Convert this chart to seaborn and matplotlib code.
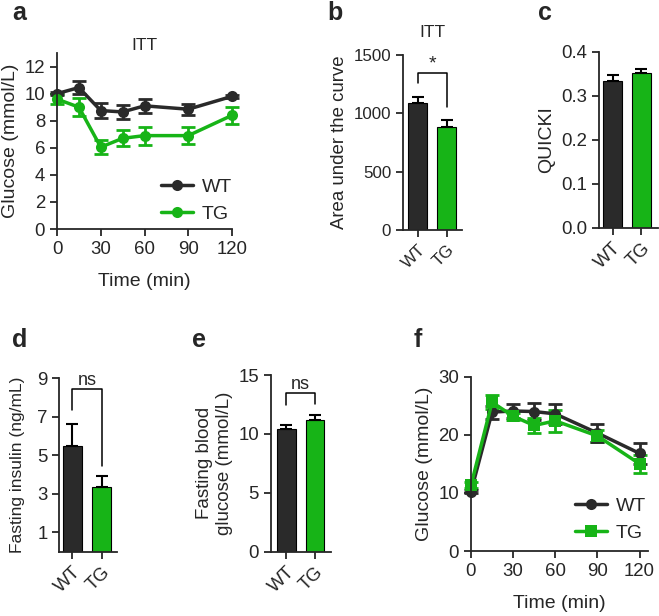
import numpy as np
import pandas as pd
import matplotlib
matplotlib.use("Agg")
import matplotlib.pyplot as plt
import seaborn as sns

# panel a: ITT time course
itt_time = [0, 15, 30, 45, 60, 90, 120]
itt_wt = [10.0, 10.45, 8.75, 8.65, 9.1, 8.85, 9.8]
itt_wt_err = [0.1, 0.5, 0.55, 0.52, 0.5, 0.42, 0.1]
itt_tg = [9.6, 9.0, 6.05, 6.7, 6.9, 6.9, 8.4]
itt_tg_err = [0.4, 0.67, 0.5, 0.6, 0.67, 0.62, 0.65]

# bar panels
groups = ["WT", "TG"]
auc = [1091, 880]
auc_err = [46, 63]
quicki = [0.335, 0.352]
quicki_err = [0.012, 0.009]
insulin = [5.47, 3.38]
insulin_err = [1.17, 0.55]
fbg = [10.4, 11.2]
fbg_err = [0.38, 0.38]

# panel f: GTT time course
gtt_time = [0, 15, 30, 45, 60, 90, 120]
gtt_wt = [10.2, 23.9, 24.1, 24.0, 23.6, 20.3, 16.8]
gtt_wt_err = [0.3, 1.1, 1.2, 1.4, 1.7, 1.6, 1.8]
gtt_tg = [11.3, 25.6, 23.2, 21.6, 22.4, 19.8, 15.0]
gtt_tg_err = [0.5, 1.2, 0.6, 1.3, 1.9, 1.0, 1.5]

DARK = "#2a2a2a"
GREEN = "#17b417"

sns.set_style("ticks")
plt.rcParams["font.family"] = ["Liberation Sans", "DejaVu Sans"]
plt.rcParams["axes.linewidth"] = 1.3
plt.rcParams["xtick.major.width"] = 1.3
plt.rcParams["ytick.major.width"] = 1.3
plt.rcParams["xtick.major.size"] = 5
plt.rcParams["ytick.major.size"] = 5
plt.rcParams["xtick.labelsize"] = 13.4
plt.rcParams["ytick.labelsize"] = 13.4
plt.rcParams["axes.labelsize"] = 14

fig = plt.figure(figsize=(6.59, 6.16), dpi=100)


def time_panel(ax, time, wt, wt_err, tg, tg_err, tg_marker, ylim, yticks,
               leg_anchor, xpad):
    df = pd.DataFrame({
        "Time": time + time,
        "Glucose": wt + tg,
        "Group": ["WT"] * len(time) + ["TG"] * len(time),
    })
    for vals, err, col in [(tg, tg_err, GREEN), (wt, wt_err, DARK)]:
        ax.errorbar(time, vals, yerr=err, fmt="none", ecolor=col,
                    elinewidth=2, capsize=5, capthick=2, clip_on=False)
    sns.lineplot(data=df, x="Time", y="Glucose", hue="Group", style="Group",
                 hue_order=["WT", "TG"], palette=[DARK, GREEN],
                 markers={"WT": "o", "TG": tg_marker}, dashes=False,
                 markersize=8, markeredgewidth=0, linewidth=2.5, ax=ax,
                 clip_on=False)
    ax.set_xlim(0, 120)
    ax.set_ylim(*ylim)
    ax.set_xticks([0, 30, 60, 90, 120])
    ax.set_yticks(yticks)
    ax.set_xlabel("Time (min)", labelpad=xpad)
    ax.set_ylabel("Glucose (mmol/L)")
    leg = ax.legend(frameon=False, loc="upper left", bbox_to_anchor=leg_anchor,
                    fontsize=14, handlelength=1.65, handletextpad=0.45,
                    borderpad=0, borderaxespad=0, labelspacing=0.5)
    for h in leg.legend_handles:
        h.set_linewidth(2.5)
    sns.despine(ax=ax)


def bar_panel(ax, vals, errs, ylim, yticks, ylabel, xlim, tick_fs=13.4,
              label_fs=14, ypad=4):
    sns.barplot(x=groups, y=vals, hue=groups, palette=[DARK, GREEN],
                saturation=1, width=0.65, edgecolor="black", linewidth=0.8,
                legend=False, ax=ax)
    ax.errorbar(np.arange(len(groups)), vals, yerr=[[0] * len(errs), errs],
                fmt="none", ecolor="black", elinewidth=1.5, capsize=4,
                capthick=1.5)
    ax.set_ylim(*ylim)
    ax.set_yticks(yticks)
    ax.set_xlim(*xlim)
    ax.set_ylabel(ylabel, fontsize=label_fs, labelpad=ypad)
    ax.set_xlabel("")
    ax.set_xticks(range(len(groups)))
    ax.set_xticklabels(groups, rotation=45, ha="right", rotation_mode="anchor")
    ax.tick_params(labelsize=tick_fs)
    sns.despine(ax=ax)


def bracket(ax, y_left, top, y_right, label, fs):
    ax.plot([0, 0, 1, 1], [y_left, top, top, y_right], color="black", lw=1.1)
    ax.text(0.5, top, label, ha="center", va="bottom", fontsize=fs)


# a
ax_a = fig.add_axes([0.0865, 0.6282, 0.2656, 0.2857])
time_panel(ax_a, itt_time, itt_wt, itt_wt_err, itt_tg, itt_tg_err, "o",
           (0, 13), range(0, 13, 2), (0.594, 0.29), 11)
ax_a.set_title("ITT", fontsize=12.5, pad=1)

# b
ax_b = fig.add_axes([0.6115, 0.6266, 0.0895, 0.284])
bar_panel(ax_b, auc, auc_err, (0, 1500), [0, 500, 1000, 1500],
          "Area under the curve", (-0.5, 1.53), tick_fs=12.2, label_fs=13.4)
bracket(ax_b, 1257, 1349, 1057, "*", 14)
ax_b.set_title("ITT", fontsize=12.5, pad=13)

# c
ax_c = fig.add_axes([0.909, 0.6299, 0.0895, 0.2857])
bar_panel(ax_c, quicki, quicki_err, (0, 0.4), [0.0, 0.1, 0.2, 0.3, 0.4],
          "QUICKI", (-0.466, 1.57))

# d
ax_d = fig.add_axes([0.09, 0.1044, 0.088, 0.2815])
bar_panel(ax_d, insulin, insulin_err, (0, 9), [1, 3, 5, 7, 9],
          "Fasting insulin (ng/mL)", (-0.45, 1.53), label_fs=12.5, ypad=9)
bracket(ax_d, 7.36, 8.43, 4.43, "ns", 13)

# e
ax_e = fig.add_axes([0.411, 0.1044, 0.0915, 0.2868])
bar_panel(ax_e, fbg, fbg_err, (0, 15), [0, 5, 10, 15],
          "Fasting blood\nglucose (mmol/L)", (-0.55, 1.58), label_fs=13.5)
bracket(ax_e, 12.45, 13.44, 12.5, "ns", 13)

# f
ax_f = fig.add_axes([0.7147, 0.1055, 0.2686, 0.283])
time_panel(ax_f, gtt_time, gtt_wt, gtt_wt_err, gtt_tg, gtt_tg_err, "s",
           (0, 30), [0, 10, 20, 30], (0.588, 0.31), 11)
ax_f.set_xlim(0, 126)

for letter, x, y in [("a", 12, 20), ("b", 327, 20), ("c", 538, 20),
                     ("d", 12, 347), ("e", 192, 347), ("f", 414, 347)]:
    fig.text(x / 659, 1 - y / 616, letter, fontsize=18, fontweight="bold",
             ha="left", va="baseline")

fig.savefig("out.png", dpi=100)
